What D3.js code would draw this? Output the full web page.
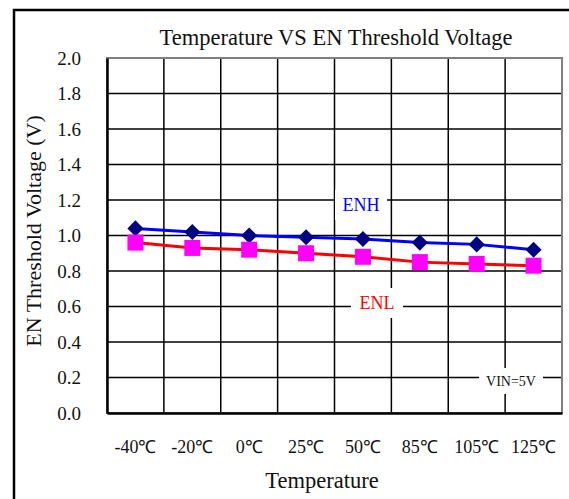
<!DOCTYPE html>
<html>
<head>
<meta charset="utf-8">
<script src="https://cdn.jsdelivr.net/npm/d3@7"></script>
<style>
  html, body { margin: 0; padding: 0; background: #fff; }
  svg text { font-family: "Liberation Serif", "Times New Roman", serif !important; fill: #111; }
</style>
</head>
<body>
<svg id="chart" width="569" height="499"></svg>
<script>
// Temperature categories and EN threshold readings (V)
const temperatures = ["-40℃", "-20℃", "0℃", "25℃", "50℃", "85℃", "105℃", "125℃"];
const enhValues = [1.04, 1.02, 1.00, 0.99, 0.98, 0.96, 0.95, 0.92];
const enlValues = [0.96, 0.93, 0.92, 0.90, 0.88, 0.85, 0.84, 0.83];
const yTicks = [0, 0.2, 0.4, 0.6, 0.8, 1.0, 1.2, 1.4, 1.6, 1.8, 2.0];

const serif = '"Liberation Serif", "Times New Roman", serif';
const svg = d3.select("#chart").attr("font-family", serif);
const plot = { left: 107, right: 562, top: 58, bottom: 413 };

const x = d3.scaleBand().domain(temperatures).range([plot.left, plot.right]);
const y = d3.scaleLinear().domain([0, 2]).range([plot.bottom, plot.top]);

// outer frame
svg.append("path")
  .attr("d", "M14,499 L14,10 L569,10")
  .attr("fill", "none").attr("stroke", "#000").attr("stroke-width", 2.5);

// horizontal gridlines
svg.append("g").selectAll("line").data(yTicks.slice(1, -1)).join("line")
  .attr("x1", plot.left).attr("x2", plot.right)
  .attr("y1", d => y(d)).attr("y2", d => y(d))
  .attr("stroke", "#000").attr("stroke-width", 1.5);

// vertical gridlines at category boundaries
const bounds = temperatures.slice(1).map(t => x(t));
svg.append("g").selectAll("line").data(bounds).join("line")
  .attr("x1", d => d).attr("x2", d => d)
  .attr("y1", plot.top).attr("y2", plot.bottom)
  .attr("stroke", "#000").attr("stroke-width", 1.5);

// plot area border
svg.append("rect")
  .attr("x", plot.left).attr("y", plot.top)
  .attr("width", plot.right - plot.left).attr("height", plot.bottom - plot.top)
  .attr("fill", "none").attr("stroke", "#808080").attr("stroke-width", 2);

// y axis
const yAxis = svg.append("g")
  .attr("transform", `translate(${plot.left},0)`)
  .call(d3.axisLeft(y).tickValues(yTicks).tickFormat(d3.format(".1f")).tickSize(0).tickPadding(26))
  .attr("font-family", serif);
yAxis.select(".domain").attr("stroke", "#000").attr("stroke-width", 2.5);
yAxis.selectAll("text").attr("font-size", 19).style("fill", "#111");

// x axis
const xAxis = svg.append("g")
  .attr("transform", `translate(0,${plot.bottom})`)
  .call(d3.axisBottom(x).tickSize(0).tickPadding(27))
  .attr("font-family", serif);
xAxis.select(".domain").attr("stroke", "#000").attr("stroke-width", 2.5);
xAxis.selectAll("text").attr("font-size", 18).style("fill", "#111");

// label boxes that mask the grid
function label(text, lx, ly, color, size, w, h) {
  svg.append("rect").attr("x", lx - w / 2).attr("y", ly - h / 2)
    .attr("width", w).attr("height", h).attr("fill", "#fff");
  svg.append("text").attr("x", lx).attr("y", ly)
    .attr("text-anchor", "middle").attr("dominant-baseline", "central")
    .attr("font-size", size).style("fill", color).text(text);
}
label("ENH", 361, 205, "#0000ff", 18, 52, 30);
label("ENL", 377, 303, "#ff0000", 18, 52, 30);
label("VIN=5V", 511, 381, "#111", 14, 64, 26);

// series lines
const cx = (d, i) => x(temperatures[i]) + x.bandwidth() / 2;
const line = d3.line().x(cx).y(d => y(d));
svg.append("path").datum(enlValues).attr("d", line)
  .attr("fill", "none").attr("stroke", "#ff0000").attr("stroke-width", 3);
svg.append("path").datum(enhValues).attr("d", line)
  .attr("fill", "none").attr("stroke", "#0000ff").attr("stroke-width", 3);

// markers: navy diamonds for ENH, magenta squares for ENL
svg.append("g").selectAll("path").data(enhValues).join("path")
  .attr("d", d3.symbol(d3.symbolDiamond2, 165)())
  .attr("transform", (d, i) => `translate(${cx(d, i)},${y(d)})`)
  .attr("fill", "#000080");
svg.append("g").selectAll("rect").data(enlValues).join("rect")
  .attr("x", (d, i) => cx(d, i) - 8)
  .attr("y", d => y(d) - 8)
  .attr("width", 16).attr("height", 16).attr("fill", "#ff00ff");

// titles
svg.append("text").attr("x", 336).attr("y", 37)
  .attr("text-anchor", "middle").attr("dominant-baseline", "central")
  .attr("font-size", 22.5).text("Temperature VS EN Threshold Voltage");
svg.append("text").attr("x", 322).attr("y", 480)
  .attr("text-anchor", "middle").attr("dominant-baseline", "central")
  .attr("font-size", 22.5).text("Temperature");
svg.append("text").attr("transform", "translate(33,231) rotate(-90)")
  .attr("text-anchor", "middle").attr("dominant-baseline", "central")
  .attr("font-size", 22).text("EN Threshold Voltage (V)");
</script>
</body>
</html>
